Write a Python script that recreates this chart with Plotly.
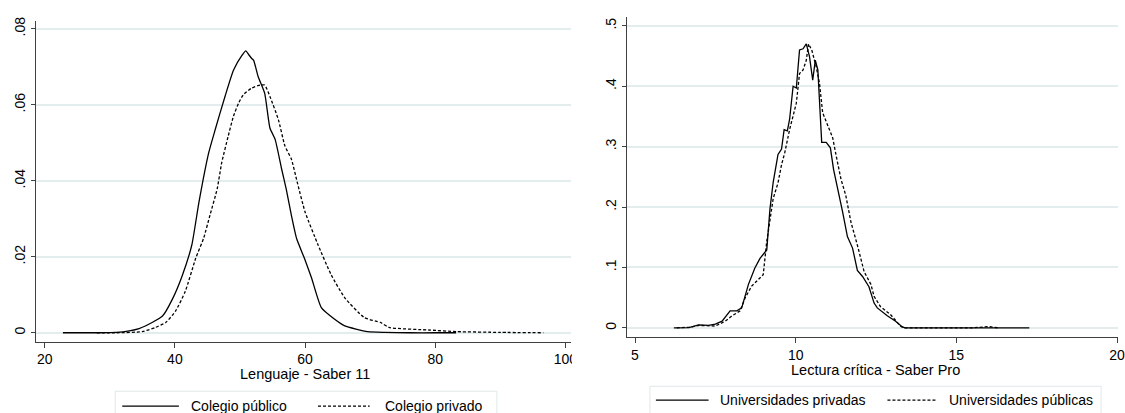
import plotly.graph_objects as go

# ---- Lenguaje - Saber 11 (kernel densities) ----
publico_x = [22.8, 28.0, 31.0, 33.0, 34.5, 36.5, 38.1, 39.6, 41.1, 42.6, 43.7, 45.2, 46.2,
             47.7, 49.0, 50.3, 50.9, 51.3, 51.8, 52.1, 52.8, 53.8, 54.6, 55.4, 56.4, 57.1,
             57.9, 58.7, 59.9, 61.0, 62.5, 64.5, 66.1, 69.6, 72.2, 76.0, 80.0, 83.2]
publico_y = [0.0, 0.0, 0.0001, 0.0005, 0.0011, 0.0027, 0.0044, 0.0088, 0.0149, 0.0231, 0.0344,
             0.0474, 0.0535, 0.0622, 0.0691, 0.0730, 0.0742, 0.0733, 0.0722, 0.0717, 0.0674,
             0.0630, 0.0539, 0.0509, 0.0431, 0.0379, 0.0309, 0.0248, 0.0196, 0.0144, 0.0066,
             0.0036, 0.0018, 0.0003, 0.0001, 0.0, 0.0, 0.0]

privado_x = [28.0, 31.0, 35.0, 37.0, 38.6, 40.1, 41.6, 43.2, 44.4, 45.4, 46.5, 47.2, 48.2,
             49.0, 49.8, 50.5, 51.8, 53.1, 53.8, 54.6, 55.9, 56.9, 57.9, 58.8, 60.0, 62.0,
             64.0, 66.1, 69.1, 71.6, 72.9, 79.3, 83.3, 90.0, 96.6]
privado_y = [0.0, 0.0, 0.0003, 0.0014, 0.0027, 0.0057, 0.0109, 0.0196, 0.0248, 0.0310,
             0.0379, 0.0448, 0.0518, 0.0570, 0.0605, 0.0626, 0.0644, 0.0652, 0.0652, 0.0622,
             0.0561, 0.0492, 0.0457, 0.0396, 0.0318, 0.0231, 0.0153, 0.0092, 0.0040, 0.0027,
             0.0014, 0.0007, 0.0003, 0.0001, 0.0]

# ---- Lectura crítica - Saber Pro (kernel densities) ----
privadas_x = [6.21, 6.68, 6.98, 7.29, 7.50, 7.71, 7.96, 8.17, 8.32, 8.53, 8.73, 8.89, 9.10,
              9.20, 9.30, 9.40, 9.45, 9.56, 9.64, 9.74, 9.81, 9.92, 10.02, 10.12, 10.23,
              10.33, 10.43, 10.53, 10.61, 10.69, 10.77, 10.81, 10.95, 11.08, 11.18, 11.31,
              11.46, 11.61, 11.77, 11.92, 12.08, 12.28, 12.44, 12.54, 12.85, 13.11, 13.31,
              13.40, 17.27]
privadas_y = [0.0, 0.0005, 0.005, 0.004, 0.006, 0.011, 0.028, 0.028, 0.033, 0.072, 0.099,
              0.115, 0.129, 0.197, 0.241, 0.274, 0.287, 0.296, 0.328, 0.326, 0.345, 0.400,
              0.397, 0.460, 0.462, 0.470, 0.449, 0.410, 0.443, 0.427, 0.345, 0.307, 0.307,
              0.298, 0.262, 0.232, 0.192, 0.151, 0.132, 0.095, 0.085, 0.068, 0.041, 0.033,
              0.020, 0.011, 0.002, 0.0, 0.0]

publicas_x = [6.30, 6.70, 7.00, 7.30, 7.50, 7.81, 8.02, 8.27, 8.43, 8.63, 8.99, 9.10, 9.30,
              9.45, 9.56, 9.66, 9.81, 10.02, 10.12, 10.23, 10.33, 10.40, 10.50, 10.64, 10.74,
              10.84, 11.00, 11.15, 11.26, 11.41, 11.56, 11.72, 11.92, 12.13, 12.34, 12.44,
              12.64, 12.95, 13.26, 13.35, 15.5, 16.0, 16.3]
publicas_y = [0.0, 0.001, 0.004, 0.004, 0.003, 0.011, 0.020, 0.028, 0.050, 0.069, 0.088,
              0.143, 0.214, 0.240, 0.270, 0.290, 0.328, 0.372, 0.421, 0.427, 0.443, 0.470,
              0.460, 0.432, 0.405, 0.356, 0.334, 0.315, 0.285, 0.246, 0.219, 0.175, 0.137,
              0.093, 0.072, 0.052, 0.035, 0.022, 0.003, 0.0, 0.0, 0.002, 0.0]

left_xticks = [20, 40, 60, 80, 100]
left_yticks = [0, 0.02, 0.04, 0.06, 0.08]
left_ylabels = ["0", ".02", ".04", ".06", ".08"]
right_xticks = [5, 10, 15, 20]
right_yticks = [0, 0.1, 0.2, 0.3, 0.4, 0.5]
right_ylabels = ["0", ".1", ".2", ".3", ".4", ".5"]

left_title = "Lenguaje - Saber 11"
right_title = "Lectura crítica - Saber Pro"
left_names = ["Colegio público", "Colegio privado"]
right_names = ["Universidades privadas", "Universidades públicas"]

W, H = 1125, 413
FONT = "Liberation Sans, Arial, sans-serif"
AXIS_COL = "#404040"
GRID_COL = "#e4eded"
LINE_W = 1.3
DASH = "3px,2px"

fig = go.Figure()
smooth = dict(shape="spline", smoothing=0.5)
fig.add_trace(go.Scatter(x=publico_x, y=publico_y, mode="lines", name=left_names[0],
                         line=dict(color="black", width=LINE_W, **smooth), xaxis="x", yaxis="y"))
fig.add_trace(go.Scatter(x=privado_x, y=privado_y, mode="lines", name=left_names[1],
                         line=dict(color="black", width=LINE_W, dash=DASH, **smooth),
                         xaxis="x", yaxis="y"))
fig.add_trace(go.Scatter(x=privadas_x, y=privadas_y, mode="lines", name=right_names[0],
                         line=dict(color="black", width=LINE_W), xaxis="x2", yaxis="y2"))
fig.add_trace(go.Scatter(x=publicas_x, y=publicas_y, mode="lines", name=right_names[1],
                         line=dict(color="black", width=LINE_W, dash=DASH), xaxis="x2", yaxis="y2"))


def px_x(p):
    return p / W


def px_y(p):
    return (H - p) / H


xcommon = dict(showline=True, linecolor=AXIS_COL, linewidth=1, ticks="outside", ticklen=5,
               tickcolor=AXIS_COL, showgrid=False, zeroline=False, ticklabeloverflow="allow",
               tickfont=dict(family=FONT, size=14, color="black"))
ycommon = dict(showline=True, linecolor=AXIS_COL, linewidth=1, ticks="outside", ticklen=4,
               tickcolor=AXIS_COL, showgrid=True, gridcolor=GRID_COL, gridwidth=1.5,
               zeroline=False, tickangle=-90,
               tickfont=dict(family=FONT, size=14, color="black"))

fig.update_layout(
    width=W, height=H, margin=dict(l=0, r=0, t=0, b=0),
    paper_bgcolor="white", plot_bgcolor="white", showlegend=False,
    xaxis=dict(domain=[px_x(36), px_x(575)], range=[18.63, 100.92], tickvals=left_xticks,
               anchor="y", **xcommon),
    yaxis=dict(domain=[px_y(341), px_y(17)], range=[-0.00235, 0.0821], tickvals=left_yticks,
               ticktext=left_ylabels, anchor="x", **ycommon),
    xaxis2=dict(domain=[px_x(630.7), 1.0], range=[4.744, 20.03], tickvals=right_xticks,
                anchor="y2", **xcommon),
    yaxis2=dict(domain=[px_y(336), px_y(13)], range=[-0.01475, 0.5148], tickvals=right_yticks,
                ticktext=right_ylabels, anchor="x2", **ycommon),
)

annotations = [
    dict(text=left_title, x=px_x(307), y=px_y(374), xref="paper", yref="paper",
         showarrow=False, xanchor="center", yanchor="middle",
         font=dict(family=FONT, size=14.5, color="black")),
    dict(text=right_title, x=px_x(881), y=px_y(370), xref="paper", yref="paper",
         showarrow=False, xanchor="center", yanchor="middle",
         font=dict(family=FONT, size=14.5, color="black")),
]

shapes = []
LEG_BORDER = "#dfe8e8"
# legend frames
shapes.append(dict(type="rect", xref="paper", yref="paper", x0=px_x(116), x1=px_x(500),
                   y0=px_y(430), y1=px_y(391), line=dict(color=LEG_BORDER, width=1),
                   fillcolor="white", layer="below"))
shapes.append(dict(type="rect", xref="paper", yref="paper", x0=px_x(654), x1=px_x(1108),
                   y0=px_y(430), y1=px_y(386), line=dict(color=LEG_BORDER, width=1),
                   fillcolor="white", layer="below"))
# the left panel ends at its right edge: its last tick label is cut there
shapes.append(dict(type="rect", xref="paper", yref="paper", x0=px_x(575.5), x1=px_x(600),
                   y0=px_y(368), y1=px_y(348), line=dict(width=0), fillcolor="white",
                   layer="above"))

legend_items = [
    # (x_line_start, x_line_end, x_text, y, dashed, label)
    (123, 180, 190, 406, False, left_names[0]),
    (320, 372, 385, 406, True, left_names[1]),
    (660, 713, 722, 400, False, right_names[0]),
    (893, 942, 953, 400, True, right_names[1]),
]
for x0, x1, xt, yy, dashed, label in legend_items:
    shapes.append(dict(type="line", xref="paper", yref="paper", x0=px_x(x0), x1=px_x(x1),
                       y0=px_y(yy), y1=px_y(yy),
                       line=dict(color="black", width=LINE_W, dash=DASH if dashed else "solid")))
    annotations.append(dict(text=label, x=px_x(xt), y=px_y(yy), xref="paper", yref="paper",
                            showarrow=False, xanchor="left", yanchor="middle",
                            font=dict(family=FONT, size=14, color="black")))

fig.update_layout(shapes=shapes, annotations=annotations)
fig.write_html("out.html")
